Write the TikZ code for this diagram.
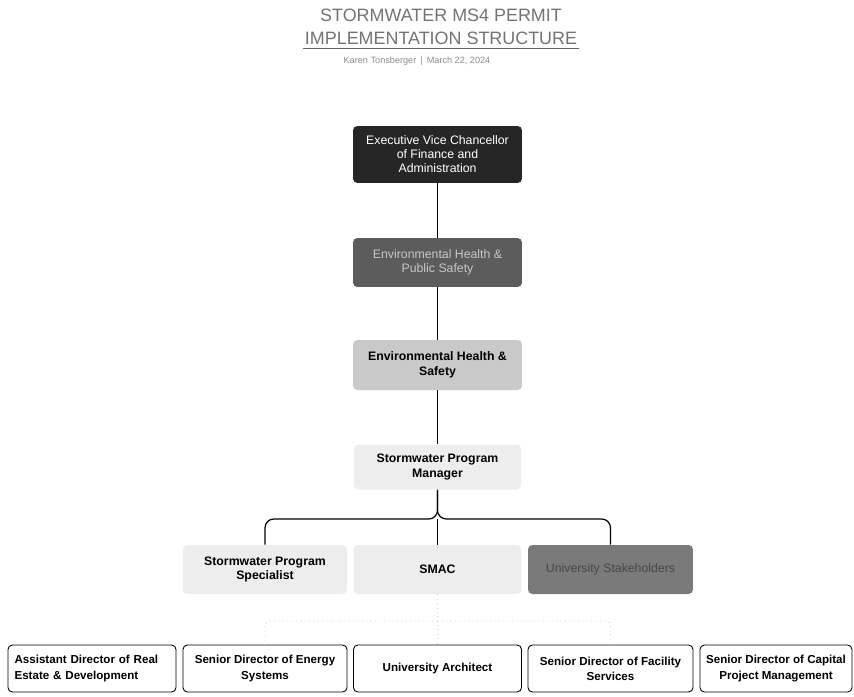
\documentclass[tikz,border=0pt]{standalone}
\usepackage{fontspec}
\setmainfont{Liberation Sans}
\begin{document}
\begin{tikzpicture}[x=0.02cm,y=-0.02cm,
	box/.style={rounded corners=2.5pt, align=center, inner sep=2pt, font=\fontsize{7}{8}\selectfont},
	lead/.style={box, minimum width=3.38cm},
	staff/.style={box, minimum height=0.98cm, font=\fontsize{7}{8.4}\selectfont\bfseries},
	unit/.style={box, draw=black, line width=0.5pt, fill=white, minimum height=0.94cm, font=\fontsize{6.6}{8.6}\selectfont\bfseries},
	link/.style={line width=0.7pt, black},
	faint/.style={line width=0.5pt, gray!40, dotted}]
	\useasboundingbox (0,0) rectangle (854,696);
	% heading
	\node[text=black!55, align=center, inner sep=1pt, font=\fontsize{10.2}{13}\selectfont] (title) at (441,27) {STORMWATER MS4 PERMIT\\IMPLEMENTATION STRUCTURE};
	\draw[black!60, line width=0.5pt] ([yshift=-1pt]title.south west) -- ([yshift=-1pt]title.south east);
	\node[text=black!45, font=\fontsize{5.2}{6}\selectfont] (sub) at (417,61) {Karen Tonsberger \,|\, March 22, 2024};
	% chain of command
	\node[lead, fill=black!85, text=white, minimum height=1.14cm] (evc) at (437.5,154.5) {Executive Vice Chancellor\\of Finance and\\Administration};
	\node[lead, fill=black!64, text=black!22, minimum height=0.98cm] (ehps) at (437.5,262.5) {Environmental Health \&\\Public Safety};
	\node[lead, fill=black!21, minimum height=1cm, font=\fontsize{7}{8.4}\selectfont\bfseries] (ehs) at (437.5,365) {Environmental Health \&\\Safety};
	\node[lead, fill=black!7, minimum height=0.9cm, minimum width=3.34cm, font=\fontsize{7}{8.4}\selectfont\bfseries] (spm) at (437.5,467) {Stormwater Program\\Manager};
	\draw[link] (evc) -- (ehps);
	\draw[link] (ehps) -- (ehs);
	\draw[link] (ehs) -- (spm);
	% program staff
	\node[staff, fill=black!7, minimum width=3.28cm] (sps) at (265,569.5) {Stormwater Program\\Specialist};
	\node[staff, fill=black!7, minimum width=3.36cm] (smac) at (437.5,569.5) {SMAC};
	\node[staff, fill=black!52, text=black!72, minimum width=3.3cm, font=\fontsize{7}{8.4}\selectfont] (ustake) at (610.5,569.5) {University Stakeholders};
	\coordinate (fork) at (437.5,519);
	\draw[link, rounded corners=5pt] (spm.south) -- (fork) -| (sps.north);
	\draw[link, rounded corners=5pt] (spm.south) -- (fork) -| (ustake.north);
	\draw[link] (fork) -- (smac.north);
	% campus units
	\node[unit, minimum width=3.36cm, text width=3.1cm, align=left] (adre) at (92,668.5) {Assistant Director of Real\\Estate \& Development};
	\node[unit, minimum width=3.28cm] (sdes) at (265,668.5) {Senior Director of Energy\\Systems};
	\node[unit, minimum width=3.36cm] (ua) at (437.5,668.5) {University Architect};
	\node[unit, minimum width=3.3cm] (sdfs) at (610.5,668.5) {Senior Director of Facility\\Services};
	\node[unit, minimum width=3.04cm] (sdcp) at (776,668.5) {Senior Director of Capital\\Project Management};
	\coordinate (split) at (437.5,621);
	\draw[faint] (smac.south) -- (ua.north);
	\draw[faint, rounded corners=3pt] (split) -| (sdes.north);
	\draw[faint, rounded corners=3pt] (split) -| (sdfs.north);
\end{tikzpicture}
\end{document}
